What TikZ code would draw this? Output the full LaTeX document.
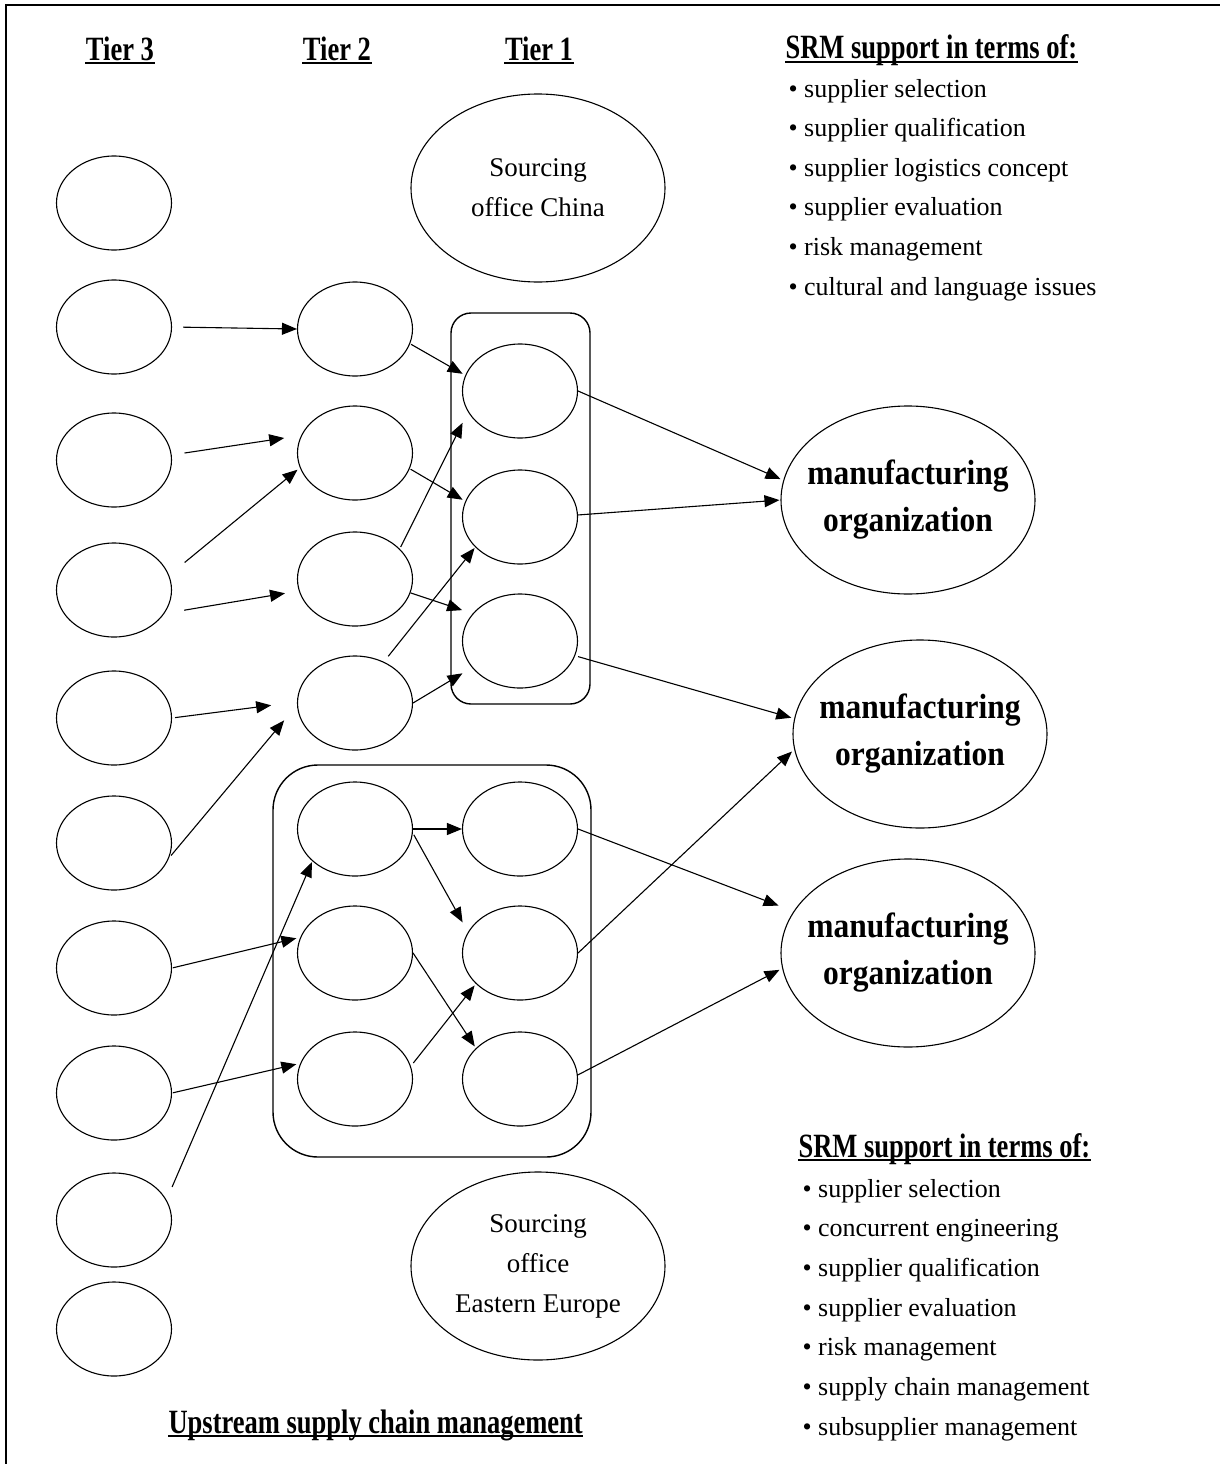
\documentclass[tikz,border=0pt]{standalone}
\usepackage{fontspec}
\setmainfont{Liberation Serif}
\newfontfamily\headfont{Liberation Serif}[FakeStretch=0.78]
\newfontfamily\orgfont{Liberation Serif}[FakeStretch=0.9]
\usetikzlibrary{shapes.geometric,arrows.meta}

\begin{document}
\begin{tikzpicture}[x=1pt,y=-1pt,line width=1.1pt,>={Triangle[length=15pt,width=12pt]},
  firm/.style={ellipse,draw,minimum width=115pt,minimum height=94pt,inner sep=0pt},
  office/.style={ellipse,draw,minimum width=254pt,minimum height=188pt,inner sep=0pt,
    align=center,font=\fontsize{27}{40}\selectfont},
  maker/.style={office,inner xsep=-25pt,font=\orgfont\bfseries\fontsize{35}{47}\selectfont},
  region/.style={draw,line width=1.4pt,rounded corners=#1},
  title/.style={inner sep=0pt,font=\headfont\bfseries\fontsize{34}{40}\selectfont},
  point/.style={inner sep=0pt,anchor=base west,font=\fontsize{26}{40}\selectfont}]
\useasboundingbox (0,0) rectangle (1220,1464);
\draw[line width=2.5pt] (6,1464) -- (6,5) -- (1220,5);

\node (tierc) at (120,60) [title,anchor=base] {Tier 3};
\node (tierb) at (337,60) [title,anchor=base] {Tier 2};
\node (tiera) at (539,60) [title,anchor=base] {Tier 1};
\node (srmtop) at (785,59) [title,anchor=base west] {SRM support in terms of:};
\node (srmlow) at (798,1157) [title,anchor=base west] {SRM support in terms of:};
\node (upstream) at (168,1433) [title,anchor=base west] {Upstream supply chain management};
\foreach \n in {tierc,tierb,tiera,srmtop,srmlow,upstream}
  \draw[line width=1.6pt] ([yshift=-3pt]\n.base west) -- ([yshift=-3pt]\n.base east);

\foreach \txt [count=\i] in {supplier selection,supplier qualification,
    supplier logistics concept,supplier evaluation,risk management,
    cultural and language issues}
  \node (srmt\i) at (788,57.4+39.6*\i) [point] {\textbullet\ \txt};
\foreach \txt [count=\i] in {supplier selection,concurrent engineering,
    supplier qualification,supplier evaluation,risk management,
    supply chain management,subsupplier management}
  \node (srml\i) at (802,1157.3+39.7*\i) [point] {\textbullet\ \txt};

\node (chinabox) at (520.5,508.5) [region=20pt,minimum width=139pt,minimum height=391pt] {};
\node (europebox) at (432,961) [region=45pt,minimum width=318pt,minimum height=392pt] {};

\node (chinaoff) at (538,188) [office] {Sourcing\\office China};
\node (europeoff) at (538,1266) [office] {Sourcing\\office\\Eastern Europe};

\node (t3a) at (114,203) [firm] {};
\node (t3b) at (114,327) [firm] {};
\node (t3c) at (114,460) [firm] {};
\node (t3d) at (114,590) [firm] {};
\node (t3e) at (114,718) [firm] {};
\node (t3f) at (114,843) [firm] {};
\node (t3g) at (114,968) [firm] {};
\node (t3h) at (114,1093) [firm] {};
\node (t3i) at (114,1220) [firm] {};
\node (t3j) at (114,1329) [firm] {};

\node (t2a) at (355,329) [firm] {};
\node (t2b) at (355,453) [firm] {};
\node (t2c) at (355,579) [firm] {};
\node (t2d) at (355,703) [firm] {};
\node (t1a) at (520,391) [firm] {};
\node (t1b) at (520,517) [firm] {};
\node (t1c) at (520,641) [firm] {};

\node (e2a) at (355,829) [firm] {};
\node (e2b) at (355,953) [firm] {};
\node (e2c) at (355,1079) [firm] {};
\node (e1a) at (520,829) [firm] {};
\node (e1b) at (520,953) [firm] {};
\node (e1c) at (520,1079) [firm] {};

\node (mfa) at (908,500) [maker] {manufacturing\\organization};
\node (mfb) at (920,734) [maker] {manufacturing\\organization};
\node (mfc) at (908,953) [maker] {manufacturing\\organization};

\draw[->,shorten <=11pt] (t3b.0) -- (t2a.180);
\draw[->,shorten <=13pt,shorten >=17pt] (t3c.5) -- (t2b.162);
\draw[->,shorten <=20pt,shorten >=3pt] (t3d.15) -- (t2b.195);
\draw[->,shorten <=20pt,shorten >=14pt] (t3d.-25) -- (t2c.192);
\draw[->,shorten <=3pt,shorten >=26pt] (t3e.0) -- (t2d.179);
\draw[->,shorten <=3pt,shorten >=20pt] (t3f.-15) -- (t2d.182);
\draw[->,shorten <=1pt,shorten >=4pt] (t3g.0) -- (e2b.164);
\draw[->,shorten <=1pt,shorten >=4pt] (t3h.0) -- (e2c.164);
\draw[->,shorten <=14pt,shorten >=1pt] (t3i.21) -- (e2a.217);

\draw[->,shorten <=1pt,shorten >=3pt] (t2a.-15) -- (t1a.164);
\draw[->,shorten <=1pt,shorten >=3pt] (t2b.-16) -- (t1b.164);
\draw[->,shorten <=2pt,shorten >=12pt] (t2c.34) -- (t1a.202);
\draw[->,shorten >=11pt] (t2c.-14) -- (t1c.150);
\draw[->,shorten <=7pt,shorten >=1pt] (t2d.55) -- (t1b.214);
\draw[->,shorten >=11pt] (t2d.0) -- (t1c.209);

\draw[->] (e2a.0) -- (e1a.180);
\draw[->,shorten <=2pt,shorten >=11pt] (e2a.-4) -- (e1b.158);
\draw[->,shorten >=2pt] (e2b.0) -- (e1c.145);
\draw[->,shorten <=4pt,shorten >=2pt] (e2c.13) -- (e1b.215);

\draw[->,shorten >=3pt] (t1a.0) -- (mfa.171);
\draw[->,shorten >=1pt] (t1b.2) -- (mfa.180);
\draw[->,shorten <=3pt,shorten >=3pt] (t1c.-15) -- (mfb.173);
\draw[->,shorten >=16pt] (e1a.0) -- (mfc.160);
\draw[->,shorten >=3pt] (e1b.0) -- (mfb.187);
\draw[->,shorten >=3pt] (e1c.4) -- (mfc.187);
\end{tikzpicture}
\end{document}
